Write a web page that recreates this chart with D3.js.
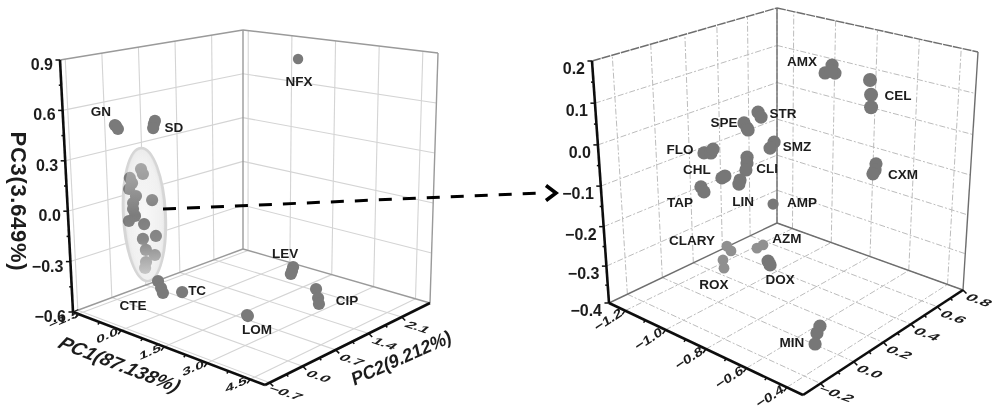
<!DOCTYPE html>
<html><head><meta charset="utf-8"><style>html,body{margin:0;background:#fff}svg{display:block}text{font-family:"Liberation Sans",Arial,sans-serif;font-weight:bold;fill:#1c1c1c}</style>
<script src="https://cdn.jsdelivr.net/npm/d3@7"></script></head><body><svg id="c" width="1000" height="419"></svg>
<script>
// ---- data ----
const leftGroups=["GN","SD","","CTE","TC","LOM","LEV","CIP","NFX"];
const leftPC1=[[-1.33,-1.29,-1.23],[0.06,0.02,-0.01],[-0.48,-0.42,-0.88,-0.81,-0.92,-0.69,-0.80,-0.81,-0.75,-0.97,-0.13,-0.44,-0.50,-0.04,-0.41,-0.42,-0.10,-0.46],[-0.02,0.08,0.14],[0.82],[3.09,3.12],[2.00,1.96,1.92],[3.83,3.90,3.93],[1.82]];
const leftPC2=[0,0,0,0,0,0,1.6,1,1.8];
const leftPC3=[[0.471,0.466,0.450],[0.540,0.521,0.496],[0.237,0.210,0.168,0.140,0.100,0.068,0.021,-0.015,-0.054,-0.095,0.068,-0.088,-0.179,-0.139,-0.240,-0.312,-0.254,-0.350],[-0.403,-0.438,-0.464],[-0.421],[-0.429,-0.433],[-0.391,-0.417,-0.437],[-0.361,-0.408,-0.440],[0.845]];
const leftTicksX=[-1.5,0,1.5,3,4.5], leftTicksY=[-0.7,0,0.7,1.4,2.1], leftTicksZ=[-0.6,-0.3,0,0.3,0.6,0.9];
const rightGroups=["AMX","CEL","CXM","STR","SPE","SMZ","FLO","CHL","CLI","LIN","TAP","AMP","CLARY","AZM","ROX","DOX","MIN"];
const rightPC1=[[-0.658,-0.691,-0.644,-0.663],[-0.477,-0.471,-0.470],[-0.442,-0.446,-0.456],[-0.859,-0.845],[-0.928,-0.914,-0.909],[-0.784,-0.804],[-1.045,-1.011,-1.000],[-0.946,-0.961],[-0.917,-0.918,-0.924],[-0.954,-0.960],[-1.066,-1.052],[-1.091],[-1.182,-1.162],[-1.139,-1.108],[-1.128,-1.124],[-1.047,-1.037],[-0.489,-0.504,-0.514]];
const rightPC2=[0.3,0.3,0.3,0.1,0.1,0.1,0,0,0.1,0.1,0,0.5,0.3,0.45,0.2,0.4,0];
const rightPC3=[[0.186,0.164,0.169,0.172],[0.172,0.139,0.111],[-0.015,-0.030,-0.040],[0.077,0.067],[0.042,0.032,0.028],[0.017,0.000],[-0.032,-0.027,-0.016],[-0.072,-0.079],[-0.038,-0.052,-0.070],[-0.099,-0.110],[-0.118,-0.128],[-0.251],[-0.348,-0.357],[-0.374,-0.358],[-0.355,-0.377],[-0.381,-0.390],[-0.347,-0.367,-0.398]];
const rightTicksX=[-1.2,-1.0,-0.8,-0.6,-0.4], rightTicksY=[-0.2,0,0.2,0.4,0.6,0.8], rightTicksZ=[-0.4,-0.3,-0.2,-0.1,0,0.1,0.2];
// ---- layout ----
const leftLabelOffset={GN:[-14,-14],SD:[19,6],CTE:[-25,24],TC:[15,-2],LOM:[10,14],LEV:[-8,-14],CIP:[31,11],NFX:[1,22]};
const rightLabelOffset={AMX:[-30,-4],CEL:[28,15],CXM:[27,10],STR:[25,1],SPE:[-20,-1],SMZ:[23,4],FLO:[-24,-4],CHL:[-28,-7],CLI:[20,11],LIN:[3,21],TAP:[-21,15],AMP:[29,-2],CLARY:[-35,-6],AZM:[30,-10],ROX:[-9,24],DOX:[12,18],MIN:[-28,16]};
const svg=d3.select("#c");
const defs=svg.append("defs");
defs.append("filter").attr("id","soft").attr("filterUnits","userSpaceOnUse").attr("x",0).attr("y",0).attr("width",1000).attr("height",419).append("feGaussianBlur").attr("stdDeviation",0.5);
const rg=defs.append("radialGradient").attr("id","ellFill").attr("r",0.55);
rg.append("stop").attr("offset",0).attr("stop-color","#f8f8f8");rg.append("stop").attr("offset",0.75).attr("stop-color","#efefef");rg.append("stop").attr("offset",1).attr("stop-color","#dcdcdc");
const lg=defs.append("linearGradient").attr("id","ellVeil").attr("x1",0).attr("x2",0).attr("y1",0).attr("y2",1);
[[0,0.45],[0.25,0.28],[0.5,0.02],[0.7,0.12],[1,0.72]].forEach(([o,a])=>lg.append("stop").attr("offset",o).attr("stop-color","#f4f4f4").attr("stop-opacity",a));
const root=svg.append("g").attr("filter","url(#soft)");
function panel(cfg){
  const g=root.append("g");
  const fx=d3.scaleLinear().domain(cfg.xd).range([0,1]);
  const ly=d3.scaleLinear().domain(cfg.yd).range([0,1]), py=d3.scalePow().exponent(cfg.ey).domain([0,1]).range([0,1]);
  const lz=d3.scaleLinear().domain(cfg.zd).range([0,1]), pz=d3.scalePow().exponent(cfg.ez).domain([0,1]).range([0,1]);
  const bil=(q,u,v,i)=>q[0][i]*(1-u)*(1-v)+q[1][i]*u*(1-v)+q[2][i]*u*v+q[3][i]*(1-u)*v;
  const P=(x,y,z)=>{const u=fx(x),v=py(ly(y)),w=pz(lz(z));
    return [0,1].map(i=>{const a=bil(cfg.floor,u,v,i),b=bil(cfg.top,u,v,i);return a+(b-a)*w;});};
  const [x0,x1]=cfg.xd,[y0,y1]=cfg.yd,[z0,z1]=cfg.zd;
  const seg=(a,b,cls)=>g.append("path").attr("d",d3.line()([a,b])).attr("fill","none").attr("stroke",cls.c).attr("stroke-width",cls.w).attr("stroke-dasharray",cls.d||null);
  // grid
  const G={c:cfg.gridColor,w:cfg.gridW,d:cfg.gridDash};
  cfg.tz.filter(t=>t>z0&&t<z1).forEach(t=>{seg(P(x0,y0,t),P(x0,y1,t),G);seg(P(x0,y1,t),P(x1,y1,t),G);});
  cfg.ty.forEach(t=>{seg(P(x0,t,z0),P(x0,t,z1),G);seg(P(x0,t,z0),P(x1,t,z0),G);});
  cfg.tx.forEach(t=>{seg(P(t,y1,z0),P(t,y1,z1),G);seg(P(t,y0,z0),P(t,y1,z0),G);});
  // box back edges
  const E={c:cfg.edge,w:cfg.edgeW},E2={c:cfg.edge,w:cfg.edgeW,d:cfg.edgeDash};
  seg(P(x0,y0,z0),P(x0,y1,z0),E);seg(P(x0,y1,z0),P(x1,y1,z0),E);seg(P(x0,y1,z0),P(x0,y1,z1),E);seg(P(x1,y1,z0),P(x1,y1,z1),E);
  seg(P(x0,y0,z1),P(x0,y1,z1),E2);seg(P(x0,y1,z1),P(x1,y1,z1),E2);
  // front axes
  const A={c:"#0c0c0c",w:2.6};
  seg(P(x0,y0,z0),P(x0,y0,z1),A);seg(P(x0,y0,z0),P(x1,y0,z0),A);seg(P(x1,y0,z0),P(x1,y1,z0),A);
  const mids=t=>d3.pairs(t).map(([a,b])=>(a+b)/2);
  const tick=(p,d,k)=>seg(p,[p[0]+d[0]*k,p[1]+d[1]*k],{c:"#0c0c0c",w:1.5});
  cfg.tz.forEach(t=>tick(P(x0,y0,t),[-1,0],4.5));mids(cfg.tz).forEach(t=>tick(P(x0,y0,t),[-1,0],2.5));
  cfg.tx.forEach(t=>tick(P(t,y0,z0),[-0.6,0.8],5));mids(cfg.tx).forEach(t=>tick(P(t,y0,z0),[-0.6,0.8],3));
  cfg.ty.forEach(t=>tick(P(x1,t,z0),[0.7,0.7],5));mids(cfg.ty).forEach(t=>tick(P(x1,t,z0),[0.7,0.7],3));
  // tick labels
  const fmt=d3.format(".1f");
  cfg.tz.forEach(t=>{const p=P(x0,y0,t);g.append("text").attr("x",p[0]-7).attr("y",p[1]+cfg.zLabelDy).attr("text-anchor","end").attr("font-size",16).text(fmt(t));});
  const skewLabel=(t,p,o)=>g.append("text").attr("text-anchor","middle").attr("dy",".35em").attr("font-size",cfg.tickFont)
    .attr("transform",`translate(${p[0]+o.off[0]},${p[1]+o.off[1]}) rotate(${o.rot}) skewX(${o.skew}) scale(${o.sx},${o.sy})`).text(fmt(t));
  cfg.tx.forEach(t=>skewLabel(t,P(t,y0,z0),cfg.xLab));
  cfg.ty.forEach(t=>skewLabel(t,P(x1,t,z0),cfg.yLab));
  // ellipse under the cluster
  const pts=cfg.groups.map((n,i)=>cfg.pc1[i].map((x,j)=>{const p=P(x,cfg.pc2[i],cfg.pc3[i][j]);return {p,r:cfg.radius(n)};}));
  let veil=null;
  if(cfg.clusterIndex!=null){
    const cp=pts[cfg.clusterIndex].map(d=>d.p),ex=d3.extent(cp,d=>d[0]),ey=d3.extent(cp,d=>d[1]);
    const cx=(ex[0]+ex[1])/2+2,cy=(ey[0]+ey[1])/2-4,rx=(ex[1]-ex[0])/2+7.5,ry=(ey[1]-ey[0])/2+17;
    const tr=`rotate(-3 ${cx} ${cy})`;
    g.append("ellipse").attr("cx",cx).attr("cy",cy).attr("rx",rx).attr("ry",ry).attr("transform",tr).attr("fill","url(#ellFill)").attr("stroke","#d6d6d6").attr("stroke-width",3);
    veil={cx,cy,rx,ry,tr};
  }
  // dots
  pts.forEach((grp,i)=>{const c=cfg.color(cfg.groups[i]);
    g.append("g").selectAll("circle").data(grp).join("circle").attr("cx",d=>d.p[0]).attr("cy",d=>d.p[1]).attr("r",d=>d.r).attr("fill",c);});
  if(veil)g.append("ellipse").attr("cx",veil.cx).attr("cy",veil.cy).attr("rx",veil.rx-1).attr("ry",veil.ry-1).attr("transform",veil.tr).attr("fill","url(#ellVeil)");
  // group labels
  cfg.groups.forEach((n,i)=>{if(!n)return;const p=pts[i][0].p,o=cfg.offs[n];
    g.append("text").attr("x",p[0]+o[0]).attr("y",p[1]+o[1]+4.7).attr("text-anchor","middle").attr("font-size",13.5).text(n);});
  return g;
}
panel({floor:[[73,312],[265,385],[430,303],[243,249]],top:[[60,60],[257,85],[438,53],[243,30]],
  xd:[-1.68,5.02],yd:[-0.8,2.7],zd:[-0.6,0.9],ey:1,ez:1,tx:leftTicksX,ty:leftTicksY,tz:leftTicksZ,
  gridColor:"#d4d4d4",gridW:1.1,gridDash:null,edge:"#9a9a9a",edgeW:1.4,edgeDash:null,zLabelDy:10,tickFont:12,
  xLab:{off:[-14,5],rot:-24,skew:-22,sx:1.4,sy:0.85},yLab:{off:[16,10],rot:18,skew:-32,sx:1.4,sy:0.85},
  groups:leftGroups,pc1:leftPC1,pc2:leftPC2,pc3:leftPC3,offs:leftLabelOffset,clusterIndex:2,
  radius:n=>n==="NFX"?5.2:6.1,color:()=>"#7a7a7a"});
panel({floor:[[609,303],[803,395],[963,290],[777,223]],top:[[592,61],[796,108],[978,52],[777,8]],
  xd:[-1.28,-0.32],yd:[-0.28,0.8],zd:[-0.4,0.2],ey:0.85,ez:1.05,tx:rightTicksX,ty:rightTicksY,tz:rightTicksZ,
  gridColor:"#bcbcbc",gridW:1,gridDash:"6 2 2 2",edge:"#6e6e6e",edgeW:1.4,edgeDash:"9 1",zLabelDy:13,tickFont:13,
  xLab:{off:[-17,9],rot:-33,skew:-12,sx:1.2,sy:0.95},yLab:{off:[16,10],rot:20,skew:-32,sx:1.35,sy:0.85},
  groups:rightGroups,pc1:rightPC1,pc2:rightPC2,pc3:rightPC3,offs:rightLabelOffset,clusterIndex:null,
  radius:n=>n==="CEL"?7:n==="AMP"?5.6:(n==="CLARY"||n==="ROX"||n==="AZM")?5.4:6.6,color:n=>(n==="CLARY"||n==="ROX"||n==="AZM")?"#909090":"#777777"});
// axis titles (left panel)
root.append("text").attr("transform","translate(11,201) rotate(90)").attr("text-anchor","middle").attr("font-size",22).attr("textLength",139).text("PC3(3.649%)");
root.append("text").attr("transform","translate(116,370) rotate(21) skewX(-12)").attr("text-anchor","middle").attr("font-size",19).attr("font-style","italic").attr("textLength",127).attr("lengthAdjust","spacingAndGlyphs").text("PC1(87.138%)");
root.append("text").attr("transform","translate(403,364) rotate(-24) skewX(-10)").attr("text-anchor","middle").attr("font-size",18.5).attr("textLength",108).attr("lengthAdjust","spacingAndGlyphs").text("PC2(9.212%)");
// dashed arrow
root.append("path").attr("d",d3.line()([[163,209],[541,193]])).attr("stroke","#000").attr("stroke-width",3).attr("stroke-dasharray","13 11").attr("fill","none");
root.append("path").attr("d",d3.line()([[546,185.5],[556,193],[546,200.5]])).attr("stroke","#000").attr("stroke-width",3.6).attr("fill","none");
</script></body></html>
